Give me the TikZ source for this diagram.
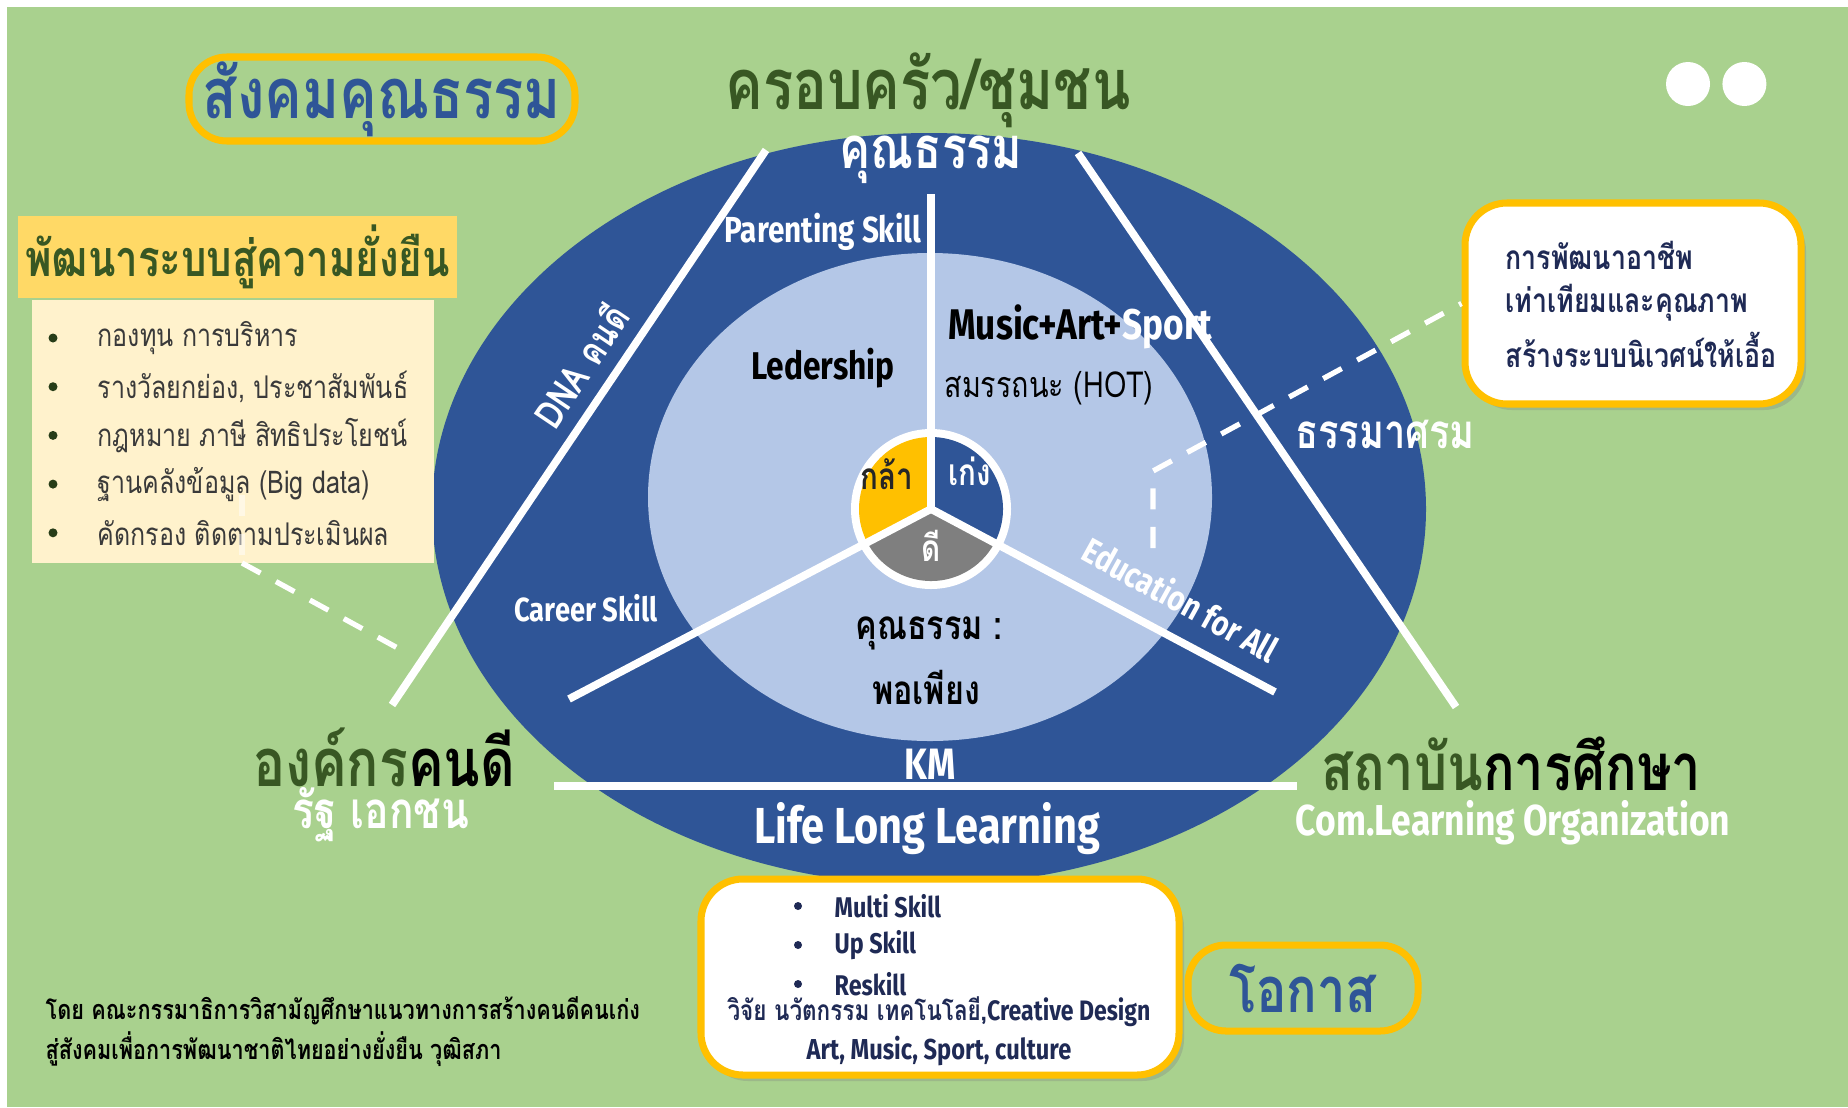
\documentclass[tikz,border=0pt]{standalone}
\usepackage{fontspec}
\setmainfont{Fira Sans}[FakeStretch=0.82]
\newfontfamily\thaifont{Loma}[Script=Thai,FakeStretch=0.8]
\usetikzlibrary{positioning,shadows}

\definecolor{meadow}{HTML}{A9D18E}
\definecolor{navy}{HTML}{2F5597}
\definecolor{sky}{HTML}{B4C7E7}
\definecolor{gold}{HTML}{FFC000}
\definecolor{butter}{HTML}{FFD966}
\definecolor{cream}{HTML}{FFF2CC}
\definecolor{leaf}{HTML}{385723}
\definecolor{stone}{HTML}{7F7F7F}
\definecolor{ink}{HTML}{1F2A55}
\definecolor{soot}{HTML}{3A3A3A}

\newcommand{\fsz}[1]{\fontsize{#1}{#1}\selectfont}

\begin{document}
\begin{tikzpicture}[
    wline/.style={white, line width=2.2pt},
    wdash/.style={white, line width=1.5pt, dash pattern=on 6pt off 5pt},
    ringbox/.style={draw=gold, line width=2pt, rounded corners=0.38cm, inner sep=0pt},
    card/.style={ringbox, fill=white, rounded corners=0.42cm,
        drop shadow={opacity=0.3, shadow xshift=0.05cm, shadow yshift=-0.06cm}},
    th/.style={font=\thaifont\bfseries\fsz{#1}, inner sep=0pt},
    thr/.style={font=\thaifont\fsz{#1}, inner sep=0pt},
    en/.style={font=\bfseries\fsz{#1}, inner sep=0pt},
    wdot/.style={circle, fill=white, minimum size=0.44cm, inner sep=0pt}]

    \useasboundingbox (0,0) rectangle (18.48,11.07);
    \fill[white] (0,0) rectangle (18.48,11.07);
    \fill[meadow] (0.07,0) rectangle (18.48,11.00);

    % rings
    \fill[navy] (9.29,5.98) ellipse [x radius=4.97cm, y radius=3.76cm];
    \fill[sky] (9.30,6.10) ellipse [x radius=2.82cm, y radius=2.44cm];

    % right card and its dashed pointer
    \node[card, minimum width=3.36cm, minimum height=2.01cm] (career) at (16.33,8.035) {};
    \foreach \t [count=\i] in {การพัฒนาอาชีพ, เท่าเทียมและคุณภาพ, สร้างระบบนิเวศน์ให้เอื้อ}
        \node[th=9.5, text=ink, anchor=west] (job\i) at (15.05,{8.52-0.475*(\i-1)}) {\t};
    \coordinate (rd1) at (11.53,5.59);
    \coordinate (rd2) at (11.53,6.36);
    \draw[wdash] (rd1) -- (rd2) -- (career.west);

    % white dividers
    \coordinate (c) at (9.31,5.98);
    \coordinate (lt) at (7.66,9.57);
    \coordinate (lb) at (3.92,4.02);
    \coordinate (rt) at (10.78,9.54);
    \coordinate (rb) at (14.56,4.00);
    \coordinate (hl) at (5.54,3.21);
    \coordinate (hr) at (12.97,3.21);
    \draw[wline] (lt) -- (lb);
    \draw[wline] (rt) -- (rb);
    \draw[wline] (hl) -- (hr);

    % hub
    \fill[white] (c) circle [radius=0.80cm];
    \fill[gold] (c) -- ++(90:0.72) arc [start angle=90, end angle=208, radius=0.72cm] -- cycle;
    \fill[navy] (c) -- ++(-28:0.72) arc [start angle=-28, end angle=90, radius=0.72cm] -- cycle;
    \fill[stone] (c) -- ++(208:0.72) arc [start angle=208, end angle=332, radius=0.72cm] -- cycle;
    \coordinate (su) at (9.31,9.13);
    \coordinate (sl) at (5.69,4.08);
    \coordinate (sr) at (12.75,4.15);
    \foreach \e in {su,sl,sr}
        \draw[wline] (c) -- (\e);

    \node[th=10.5, text=black!85] (brave) at (8.87,6.33) {กล้า};
    \node[th=10.5, text=white] (smart) at (9.70,6.36) {เก่ง};
    \node[th=10.5, text=white] (good) at (9.31,5.61) {ดี};

    % inner ring
    \node[en=11] (lead) at (8.23,7.39) {Ledership};
    \node[en=12.2] (mas) at (10.80,7.80) {Music+Art+\textcolor{white}{Sport}};
    \node[thr=10.2] (hot) at (10.49,7.19) {สมรรถนะ (HOT)};
    \node[th=11.5] (moral) at (9.29,4.74) {คุณธรรม :};
    \node[th=11.5] (enough) at (9.26,4.20) {พอเพียง};

    % outer ring
    \node[th=16.5, text=white] (virtue) at (9.31,9.47) {คุณธรรม};
    \node[en=10.3, text=white] (parent) at (8.23,8.75) {Parenting Skill};
    \node[th=11, text=white, rotate=56] (dna) at (5.80,7.42) {DNA คนดี};
    \node[en=9.5, text=white] (careers) at (5.86,4.99) {Career Skill};
    \node[th=13.5, text=white] (dharma) at (13.85,6.73) {ธรรมาศรม};
    \node[en=10, text=white, rotate=-29] (edu) at (11.81,5.08) {Education for All};
    \node[en=12.5, text=white] (km) at (9.30,3.43) {KM};
    \node[en=14.4, text=white] (lll) at (9.27,2.78) {Life Long Learning};

    % corners
    \node[ringbox, minimum width=3.86cm, minimum height=0.84cm, th=20, text=navy] (society) at (3.82,10.08) {สังคมคุณธรรม};
    \node[th=20, text=leaf] (family) at (9.28,10.17) {ครอบครัว/ชุมชน};
    \node[wdot] (d1) at (16.88,10.23) {};
    \node[wdot, right=0.11cm of d1] (d2) {};
    \node[th=19] (org) at (3.84,3.50) {\textcolor{leaf}{องค์กร}คนดี};
    \node[th=14.5, text=white] (sector) at (3.81,2.92) {รัฐ เอกชน};
    \node[th=18.6] (school) at (15.11,3.43) {\textcolor{leaf}{สถาบัน}การศึกษา};
    \node[en=12.3, text=white] (comlearn) at (15.13,2.84) {Com.Learning Organization};

    % left boxes
    \node[fill=butter, minimum width=4.39cm, minimum height=0.82cm, th=14.3, text=leaf] (goal) at (2.375,8.50) {พัฒนาระบบสู่ความยั่งยืน};
    \node[fill=cream, minimum width=4.02cm, minimum height=2.63cm] (fund) at (2.33,6.755) {};
    \foreach \t [count=\i] in {กองทุน การบริหาร, {รางวัลยกย่อง, ประชาสัมพันธ์}, กฎหมาย ภาษี สิทธิประโยชน์, ฐานคลังข้อมูล (Big data), คัดกรอง ติดตามประเมินผล} {
        \fill[leaf!70!black] (0.53,{7.69-0.487*(\i-1)}) circle [radius=0.045cm];
        \node[thr=8.9, text=soot, anchor=west] (item\i) at (0.97,{7.69-0.487*(\i-1)}) {\t};
    }
    \coordinate (ld1) at (2.42,6.12);
    \coordinate (ld2) at (2.42,5.44);
    \coordinate (ld3) at (4.05,4.55);
    \draw[wdash, opacity=0.5] (ld1) -- (ld2);
    \draw[wdash] (ld2) -- (ld3);

    % bottom
    \node[card, minimum width=4.78cm, minimum height=1.96cm] (skill) at (9.40,1.30) {};
    \foreach \t [count=\i] in {Multi Skill, Up Skill, Reskill} {
        \fill[ink] (7.98,{2.01-0.39*(\i-1)}) circle [radius=0.04cm];
        \node[en=8.1, text=ink, anchor=west] (sk\i) at (8.34,{2.01-0.39*(\i-1)}) {\t};
    }
    \node[en=8, text=ink] (rnd) at (9.39,0.95) {{\thaifont วิจัย นวัตกรรม เทคโนโลยี,}Creative Design};
    \node[en=8.2, text=ink] (arts) at (9.39,0.56) {Art, Music, Sport, culture};
    \node[ringbox, minimum width=2.30cm, minimum height=0.86cm, th=18, text=navy] (chance) at (13.03,1.19) {โอกาส};

    \node[th=7.7, anchor=west] (credit1) at (0.45,0.96) {โดย คณะกรรมาธิการวิสามัญศึกษาแนวทางการสร้างคนดีคนเก่ง};
    \node[th=7.7, anchor=west] (credit2) at (0.45,0.58) {สู่สังคมเพื่อการพัฒนาชาติไทยอย่างยั่งยืน วุฒิสภา};
\end{tikzpicture}
\end{document}
